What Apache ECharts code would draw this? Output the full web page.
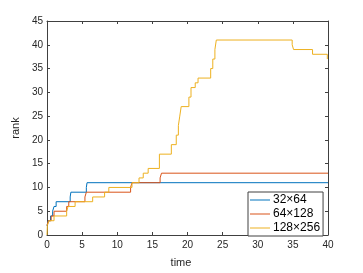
<!DOCTYPE html>
<html><head><meta charset="utf-8">
<script src="https://cdn.jsdelivr.net/npm/echarts@6/dist/echarts.min.js"></script>
<style>html,body{margin:0;padding:0;background:#fff}#c{width:363px;height:273px}</style>
</head><body><div id="c"></div>
<script>
var seriesNames = ['32\u00d764', '64\u00d7128', '128\u00d7256'];
var blueT = [0, 0.2, 0.5, 0.8, 1.0, 1.3, 3.3, 3.4, 5.6, 5.7, 40];
var blueR = [2, 3, 4, 5, 6, 7, 8, 9, 10, 11, 11];
var orangeT = [0, 0.2, 0.6, 1.0, 2.8, 3.1, 5.4, 5.6, 11.9, 12.1, 16.1, 16.3, 40];
var orangeR = [2, 3, 4, 5, 6, 7, 8, 9, 10, 11, 12, 13, 13];
var yellowT = [0, 0.05, 0.3, 1.0, 2.8, 3.0, 4.0, 6.5, 8.2, 8.8, 12.1, 13.1, 13.7, 14.4, 16.0, 17.7, 18.4, 18.7, 18.9, 19.1, 20.2, 20.5, 21.1, 21.5, 23.3, 23.6, 23.9, 24.1, 34.9, 35.1, 37.8, 39.9, 40];
var yellowR = [0, 2, 3, 4, 5, 6, 7, 8, 9, 10, 11, 12, 13, 14, 17, 19, 21, 23, 25, 27, 29, 31, 32, 33, 35, 37, 39, 41, 40, 39, 38, 37, 37];
var xTicks = [0, 5, 10, 15, 20, 25, 30, 35, 40];
var yTicks = [0, 5, 10, 15, 20, 25, 30, 35, 40, 45];
var colors = ['#0072BD', '#D95319', '#EDB120'];

function pairs(t, r) { return t.map(function (v, i) { return [v, r[i]]; }); }
var axisCol = '#404040';
var font = 'Liberation Sans, Arial, sans-serif';
function xAx(pos, show) {
  return { type: 'value', position: pos, min: xTicks[0], max: xTicks[xTicks.length - 1], interval: 5,
    axisLine: { show: true, onZero: false, lineStyle: { color: axisCol, width: 1 } },
    axisTick: { show: true, inside: true, length: 3, lineStyle: { color: axisCol } },
    axisLabel: { show: show, color: '#262626', fontSize: 10, fontFamily: font, margin: 5 },
    splitLine: { show: false },
    name: show ? 'time' : '', nameLocation: 'middle', nameGap: 22,
    nameTextStyle: { color: '#262626', fontSize: 11, fontFamily: font, padding: [0, 13, 0, 0] } };
}
function yAx(pos, show) {
  return { type: 'value', position: pos, min: yTicks[0], max: yTicks[yTicks.length - 1], interval: 5,
    axisLine: { show: true, onZero: false, lineStyle: { color: axisCol, width: 1 } },
    axisTick: { show: true, inside: true, length: 3, lineStyle: { color: axisCol } },
    axisLabel: { show: show, color: '#262626', fontSize: 10, fontFamily: font, margin: 4 },
    splitLine: { show: false },
    name: show ? 'rank' : '', nameLocation: 'middle', nameGap: 17,
    nameTextStyle: { color: '#262626', fontSize: 11, fontFamily: font } };
}
var data = [pairs(blueT, blueR), pairs(orangeT, orangeR), pairs(yellowT, yellowR)];
var chart = echarts.init(document.getElementById('c'), null, { renderer: 'canvas' });
chart.setOption({
  animation: false,
  backgroundColor: '#fff',
  grid: { left: 47, right: 35, top: 21, bottom: 30 },
  xAxis: [xAx('bottom', true), xAx('top', false)],
  yAxis: [yAx('left', true), yAx('right', false)],
  legend: {
    orient: 'vertical', left: 248, top: 192,
    backgroundColor: '#fff', borderColor: '#404040', borderWidth: 1,
    padding: [2, 3, 2, 2], itemGap: 2, itemWidth: 20, itemHeight: 12,
    textStyle: { fontSize: 12, fontFamily: font, color: '#000', padding: [0, 0, 0, -2] },
    data: seriesNames.map(function (n) { return { name: n, icon: 'path://M0,5.5 H20 V6.5 H0 Z' }; })
  },
  series: data.map(function (d, i) {
    return { name: seriesNames[i], type: 'line', step: 'end', data: d, symbol: 'none',
      xAxisIndex: 0, yAxisIndex: 0,
      lineStyle: { color: colors[i], width: 1 }, itemStyle: { color: colors[i] } };
  })
});
</script></body></html>
